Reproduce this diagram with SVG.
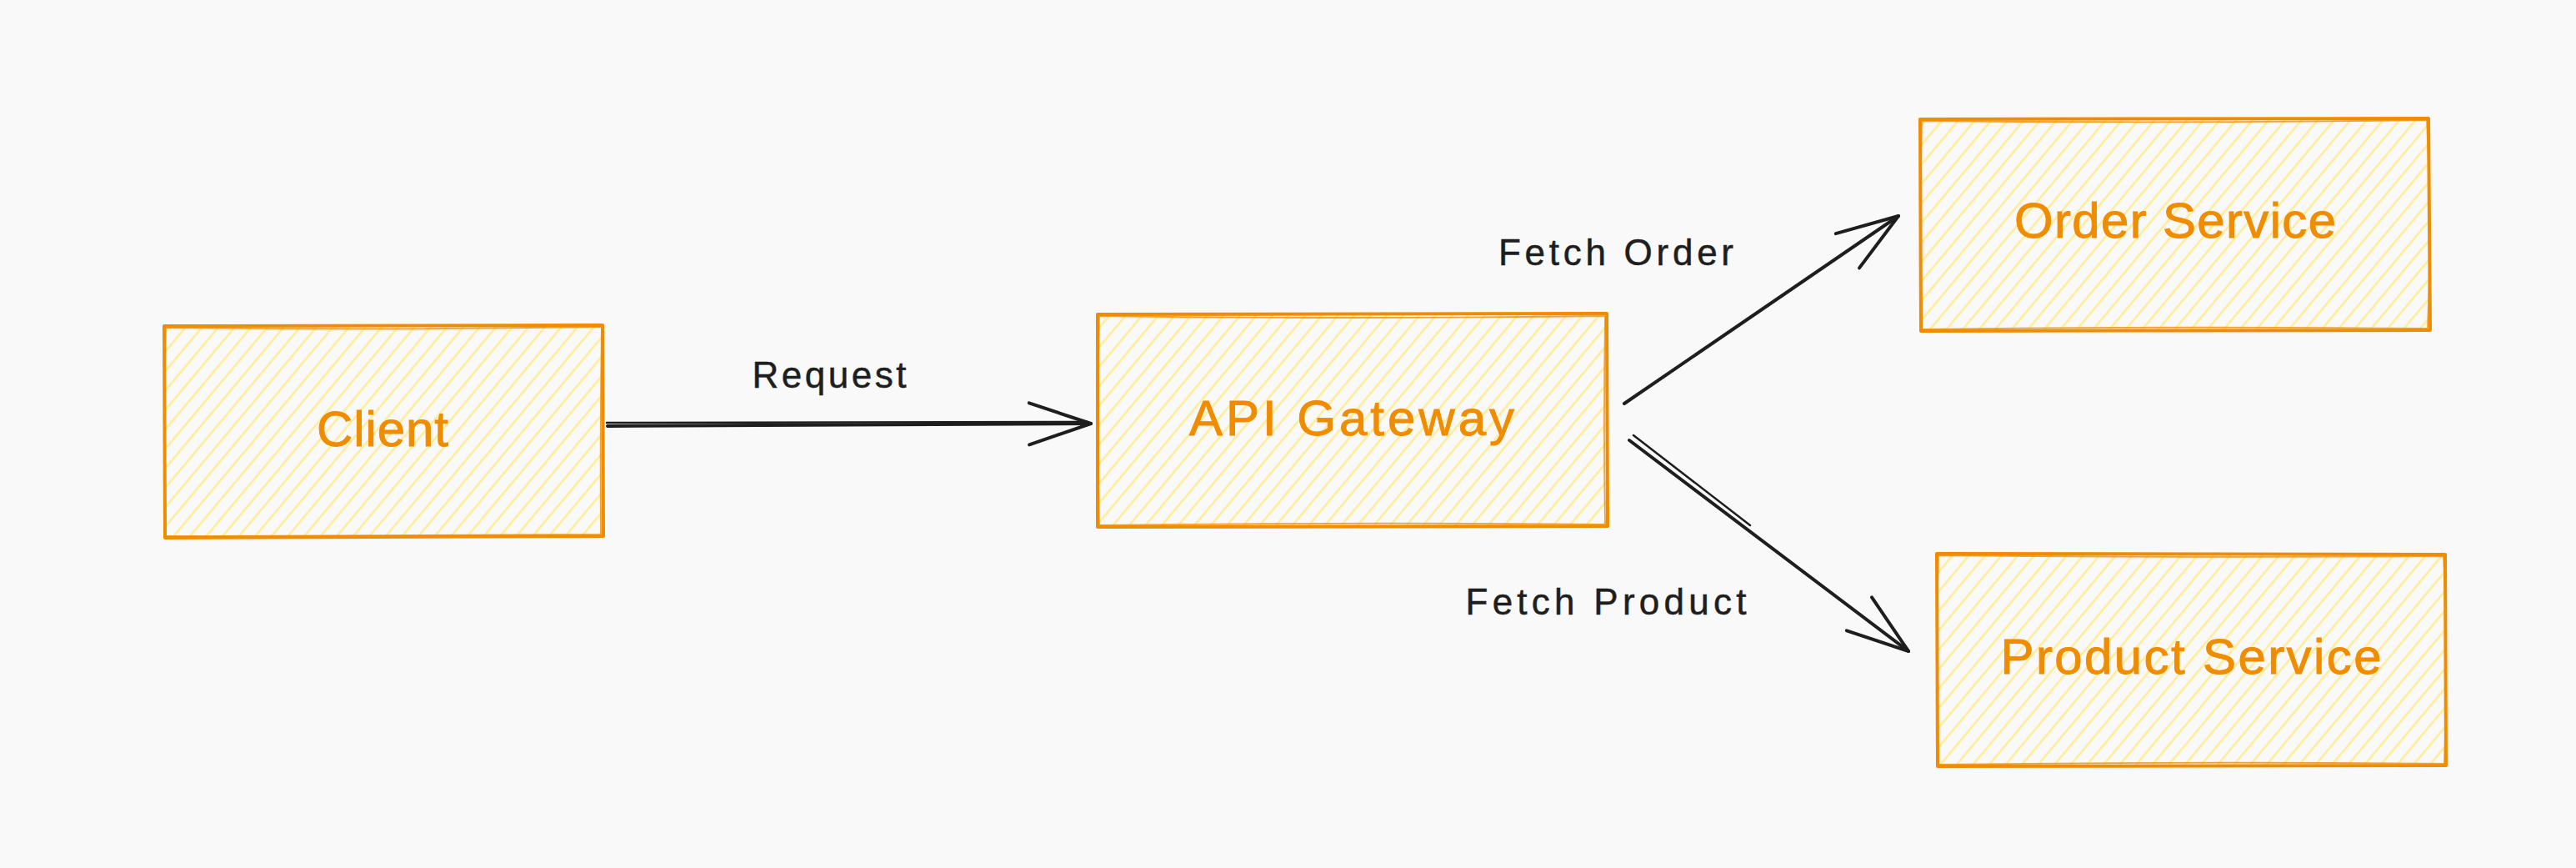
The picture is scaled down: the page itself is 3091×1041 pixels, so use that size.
<svg xmlns="http://www.w3.org/2000/svg" width="3091" height="1041" viewBox="0 0 3091 1041">
  <defs>
    <pattern id="hatch" patternUnits="userSpaceOnUse" width="15" height="15" patternTransform="rotate(40)">
      <line x1="3" y1="-2" x2="3" y2="17" stroke="#ffec99" stroke-width="2.6"/>
    </pattern>
    <marker id="head" markerUnits="userSpaceOnUse" markerWidth="90" markerHeight="70" refX="0" refY="0" viewBox="-80 -35 90 70" orient="auto" overflow="visible">
      <path d="M -74 -25 L 0 0 L -74 25" fill="none" stroke="#1e1e1e" stroke-width="4" stroke-linecap="round" stroke-linejoin="round"/>
    </marker>
    <style>
      .box { fill: url(#hatch); stroke: none; }
      .edge { fill: none; stroke: #f08c00; stroke-width: 4; stroke-linecap: round; stroke-linejoin: round; }
      .edge2 { fill: none; stroke: #f08c00; stroke-width: 1.8; stroke-linecap: round; opacity: 0.8; }
      .ntext { font-family: "Comic Sans MS", "Liberation Sans", "Noto Sans", sans-serif; font-size: 60px; fill: #f08c00; stroke: #f08c00; stroke-width: 0.9; text-anchor: middle; }
      .ltext { font-family: "Comic Sans MS", "Liberation Sans", "Noto Sans", sans-serif; font-size: 44px; fill: #1e1e1e; stroke: #1e1e1e; stroke-width: 0.5; text-anchor: middle; }
      .conn { fill: none; stroke: #1e1e1e; stroke-width: 4; stroke-linecap: round; }
      .conn2 { fill: none; stroke: #1e1e1e; stroke-width: 2.5; stroke-linecap: round; }
    </style>
  </defs>
  <rect x="0" y="0" width="3091" height="1041" fill="#f9f9f9"/>

  <g id="client">
    <rect class="box" x="199" y="392" width="523" height="251"/>
    <path class="edge" d="M197 391 L723 390 L724 643 L198 645 Z"/>
    <path class="edge2" d="M199 393 Q460 396 721 392 M722 392 Q720 520 721 641 M721 641 Q460 642 199 643 M199 643 Q196 520 199 393"/>
    <text class="ntext" x="459" y="535" textLength="158" lengthAdjust="spacing">Client</text>
  </g>

  <g id="api-gateway">
    <rect class="box" x="1318" y="378" width="609" height="252"/>
    <path class="edge" d="M1317 377 L1928 376 L1929 631 L1317 632 Z"/>
    <path class="edge2" d="M1319 379 Q1620 383 1926 379 M1926 379 Q1924 505 1926 629 M1926 629 Q1620 626 1319 630 M1319 630 Q1316 505 1319 379"/>
    <text class="ntext" x="1622" y="522" textLength="390" lengthAdjust="spacing">API Gateway</text>
  </g>

  <g id="order-service">
    <rect class="box" x="2305" y="143" width="609" height="252"/>
    <path class="edge" d="M2304 143 L2914 142 L2916 396 L2305 397 Z"/>
    <path class="edge2" d="M2306 145 Q2610 148 2912 144 M2912 144 Q2918 270 2913 394 M2913 394 Q2610 391 2306 395 M2306 395 Q2303 270 2306 145"/>
    <text class="ntext" x="2610" y="285" textLength="386" lengthAdjust="spacing">Order Service</text>
  </g>

  <g id="product-service">
    <rect class="box" x="2325" y="665" width="609" height="252"/>
    <path class="edge" d="M2324 664 L2934 665 L2935 918 L2325 919 Z"/>
    <path class="edge2" d="M2326 666 Q2630 669 2932 667 M2932 667 Q2938 790 2933 916 M2933 916 Q2630 913 2326 917 M2326 917 Q2322 790 2326 666"/>
    <text class="ntext" x="2629" y="808" textLength="457" lengthAdjust="spacing">Product Service</text>
  </g>

  <g id="connectors">
    <g id="edge-request">
      <path class="conn" d="M729 511 L1309 508" marker-end="url(#head)"/>
      <path class="conn2" d="M728 507 L1305 506"/>
      <text class="ltext" x="995" y="465" textLength="185" lengthAdjust="spacing">Request</text>
    </g>
    <g id="edge-fetch-order">
      <path class="conn" d="M1949 484 L2278 259" marker-end="url(#head)"/>
      <text class="ltext" x="1939" y="318" textLength="282" lengthAdjust="spacing">Fetch Order</text>
    </g>
    <g id="edge-fetch-product">
      <path class="conn" d="M1955 528 L2290 781" marker-end="url(#head)"/>
      <path class="conn2" d="M1960 522 L2100 630"/>
      <text class="ltext" x="1927" y="737" textLength="337" lengthAdjust="spacing">Fetch Product</text>
    </g>
  </g>
</svg>
